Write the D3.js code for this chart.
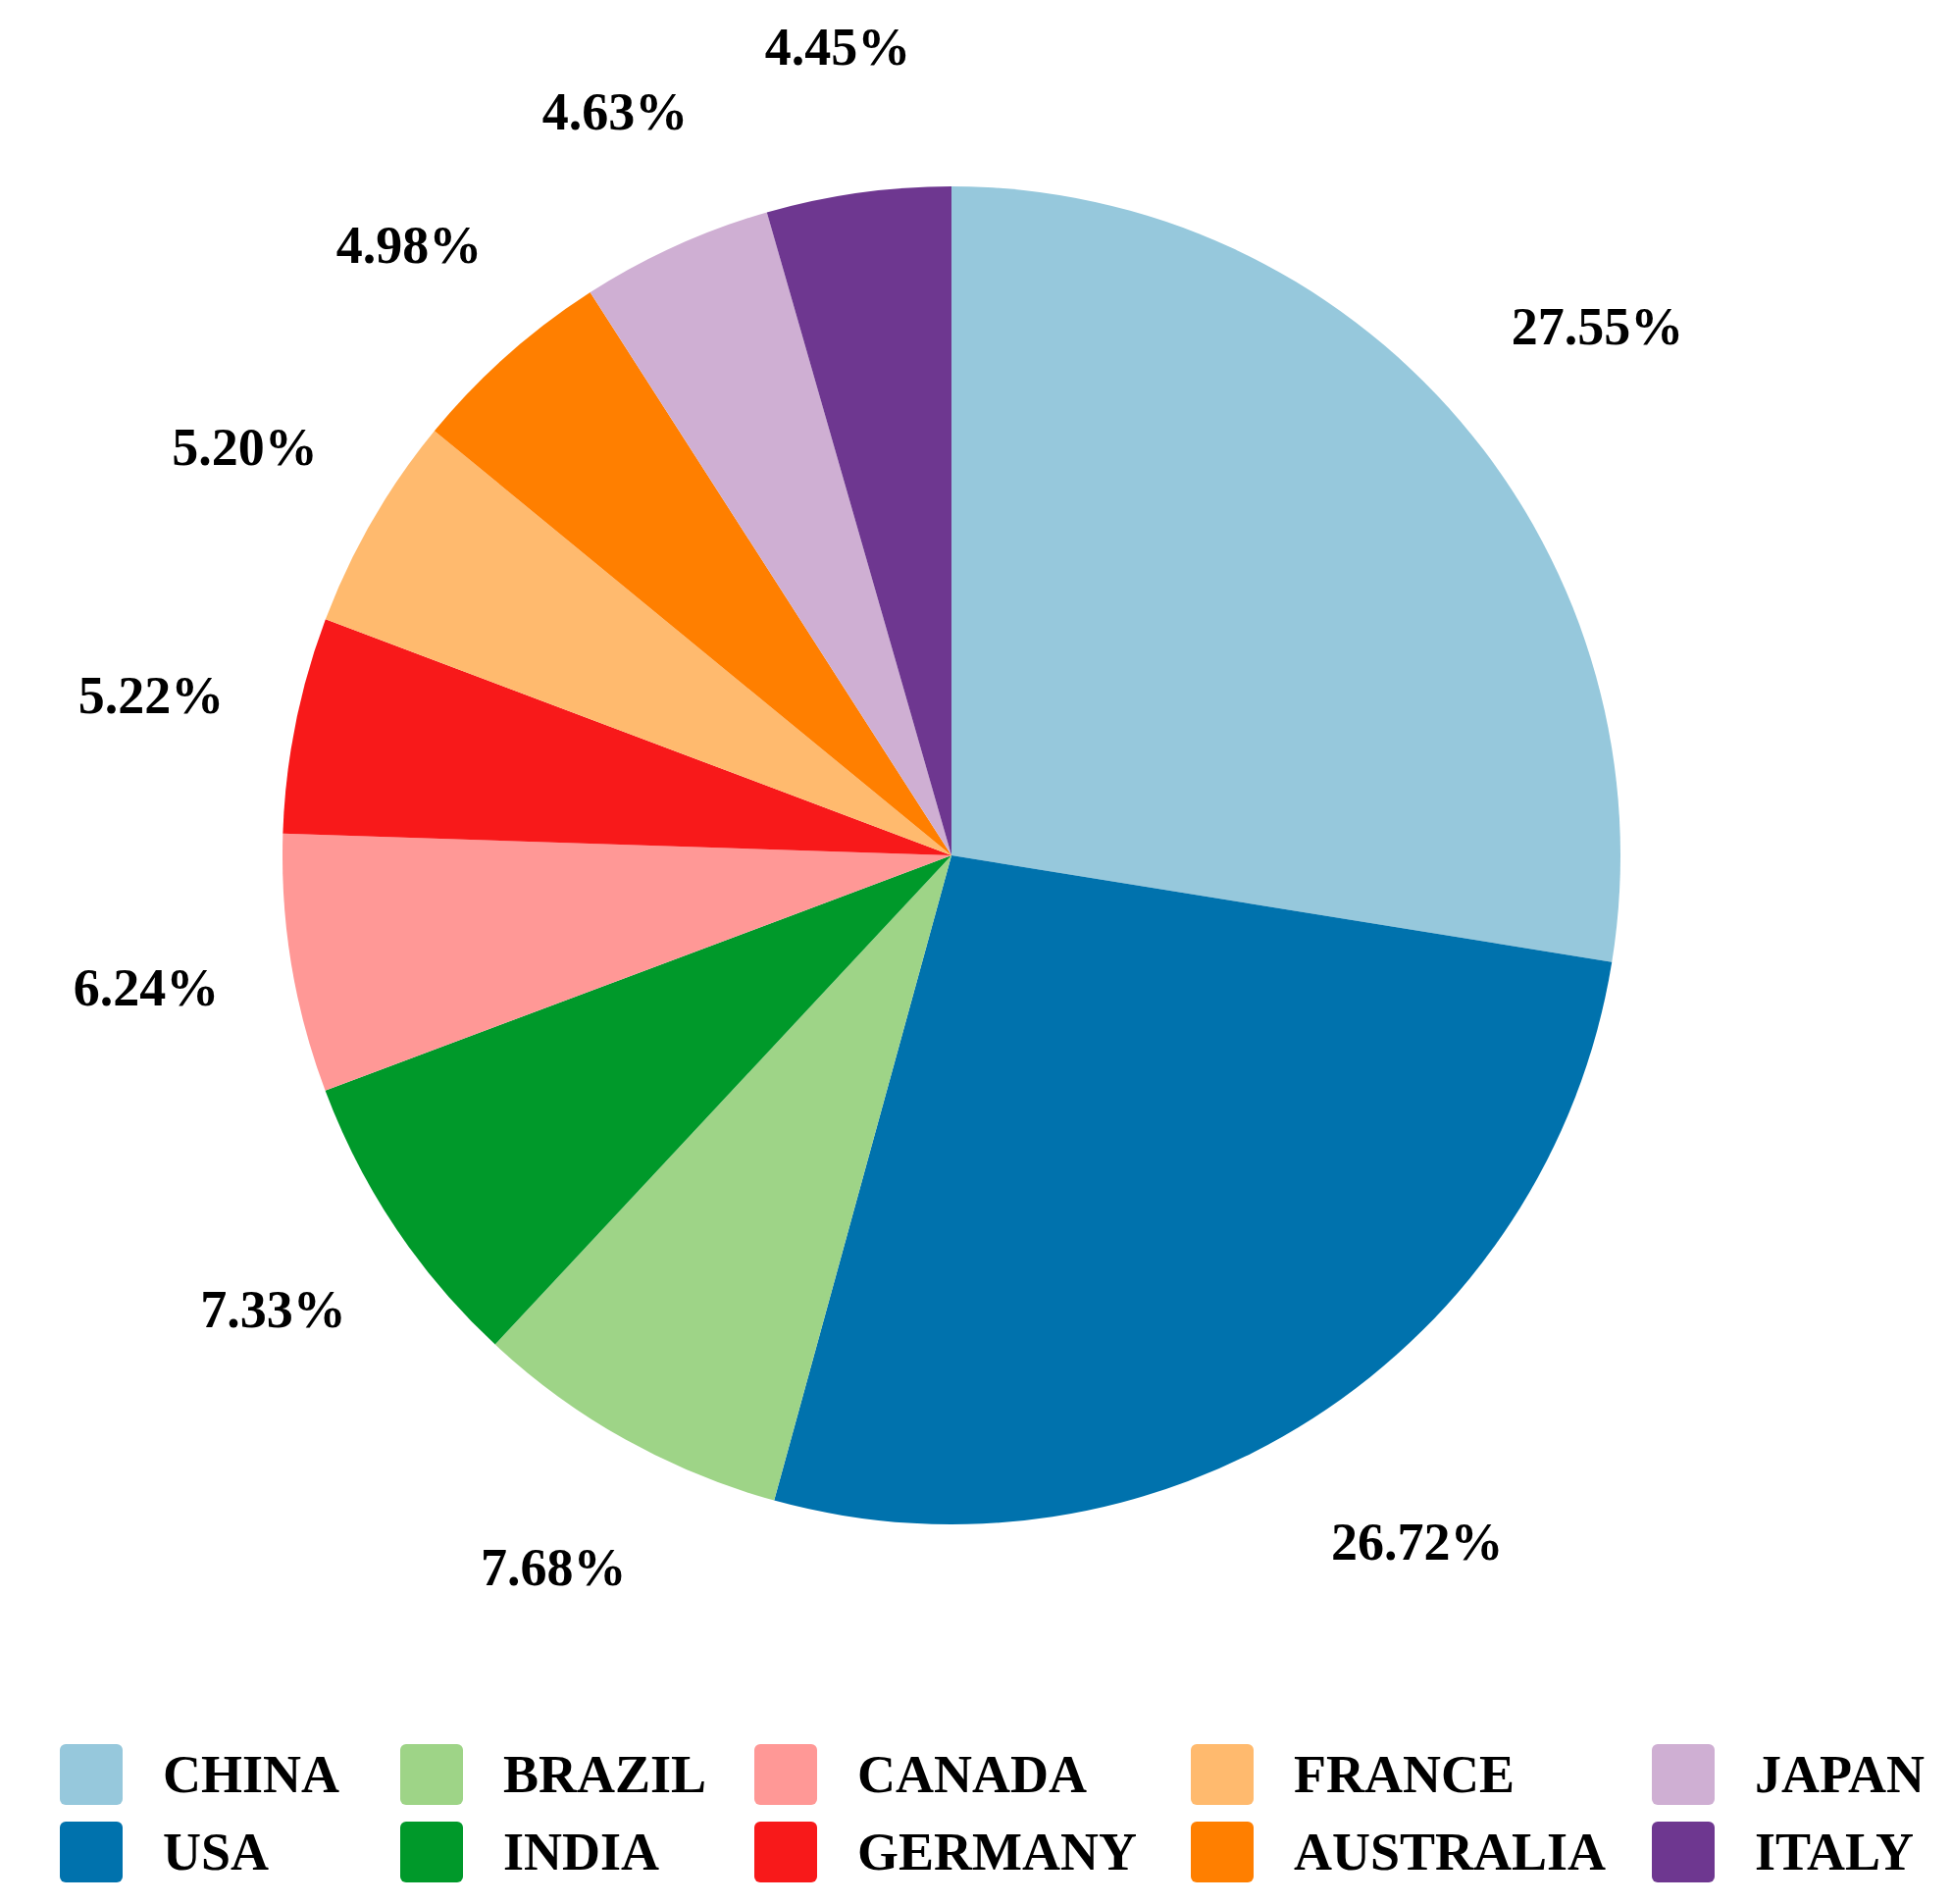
<!DOCTYPE html>
<html><head><meta charset="utf-8">
<script src="https://cdn.jsdelivr.net/npm/d3@7"></script>
<style>body{margin:0;background:#fff}</style>
</head><body>
<svg id="chart" width="1990" height="1941"></svg>
<script>
const countries = ["CHINA", "USA", "BRAZIL", "INDIA", "CANADA", "GERMANY", "FRANCE", "AUSTRALIA", "JAPAN", "ITALY"];
const shares = [27.55, 26.72, 7.68, 7.33, 6.24, 5.22, 5.20, 4.98, 4.63, 4.45];
const colors = ["#96c8dc", "#0072ad", "#9ed487", "#00992a", "#ff9896", "#f8191a", "#ffba6e", "#ff7f00", "#cfafd3", "#6e3790"];
const legend_cols = [61, 408, 769, 1214, 1684];

const svg = d3.select("#chart");
const font = "'Liberation Serif', 'Times New Roman', serif";
const cx = 970, cy = 872, r = 682;

const color = d3.scaleOrdinal().domain(countries).range(colors);
const pie = d3.pie().sort(null).value(d => d.v);
const arcs = pie(countries.map((c, i) => ({ c, v: shares[i] })));
const arc = d3.arc().innerRadius(0).outerRadius(r);
const label_arc = d3.arc().innerRadius(r * 1.22).outerRadius(r * 1.22);

const g = svg.append("g").attr("transform", `translate(${cx},${cy})`);
g.selectAll("path").data(arcs).join("path")
  .attr("d", arc)
  .attr("fill", d => color(d.data.c));

g.selectAll("text").data(arcs).join("text")
  .attr("transform", d => {
    const [x, y] = label_arc.centroid(d);
    return `translate(${x + (x > 0 ? 25 : 0)},${y})`;
  })
  .attr("text-anchor", "middle")
  .attr("dominant-baseline", "central")
  .attr("font-family", font).attr("font-weight", "bold").attr("font-size", 54)
  .text(d => d.data.v.toFixed(2) + "%");

const legend = svg.append("g");
countries.forEach((c, i) => {
  const x = legend_cols[Math.floor(i / 2)];
  const y = i % 2 === 0 ? 1809 : 1888;
  legend.append("rect").attr("x", x).attr("y", y - 31).attr("width", 64).attr("height", 62)
    .attr("rx", 6).attr("fill", color(c));
  legend.append("text").attr("x", x + 105).attr("y", y)
    .attr("dominant-baseline", "central")
    .attr("font-family", font).attr("font-weight", "bold").attr("font-size", 54)
    .text(c);
});
</script>
</body></html>
